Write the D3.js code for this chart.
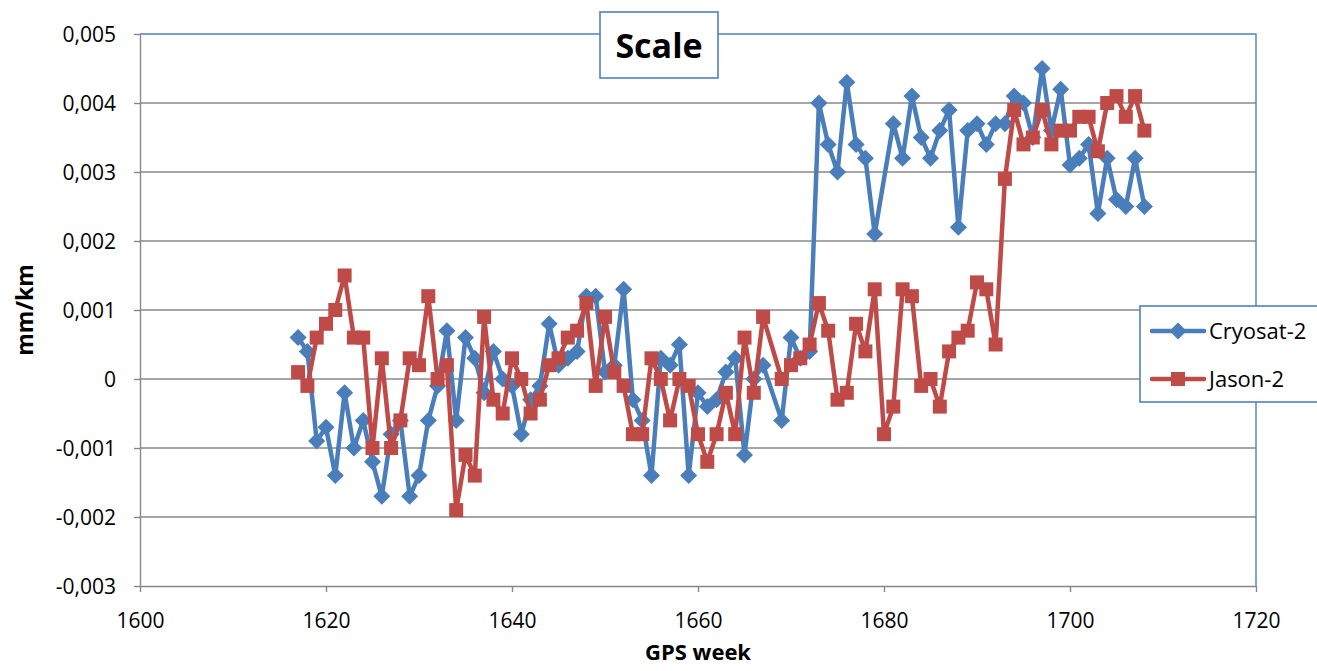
<!DOCTYPE html>
<html>
<head>
<meta charset="utf-8">
<script src="https://cdn.jsdelivr.net/npm/d3@7"></script>
<style>
  html, body { margin: 0; padding: 0; background: #fff; }
  svg { display: block; font-family: Carlito, Calibri, "Open Sans", sans-serif; }
</style>
</head>
<body>
<svg id="chart" width="1317" height="671"></svg>
<script>
// ---- data (values in units of 0.0001 mm/km, null = no sample that week) ----
const weeks = d3.range(1617, 1709);
const cryosat = [
   6,  4, -9, -7,-14, -2,-10, -6,-12,-17,   // 1617-1626
  -8, -6,-17,-14, -6, -1,  7, -6,  6,  3,   // 1627-1636
  -2,  4,  0, -1, -8, -3, -1,  8,  2,  3,   // 1637-1646
   4, 12, 12,  1,  2, 13, -3, -6,-14,  3,   // 1647-1656
   2,  5,-14, -2, -4, -3,  1,  3,-11,  0,   // 1657-1666
   2,null,-6,  6,  3,  4, 40, 34, 30, 43,   // 1667-1676
  34, 32, 21,null,37, 32, 41, 35, 32, 36,   // 1677-1686
  39, 22, 36, 37, 34, 37, 37, 41, 40, 35,   // 1687-1696
  45, 36, 42, 31, 32, 34, 24, 32, 26, 25,   // 1697-1706
  32, 25                                    // 1707-1708
];
const jason = [
   1, -1,  6,  8, 10, 15,  6,  6,-10,  3,   // 1617-1626
 -10, -6,  3,  2, 12,  0,  2,-19,-11,-14,   // 1627-1636
   9, -3, -5,  3,  0, -5, -3,  2,  3,  6,   // 1637-1646
   7, 11, -1,  9,  1, -1, -8, -8,  3,  0,   // 1647-1656
  -6,  0, -1, -8,-12, -8, -2, -8,  6, -2,   // 1657-1666
   9,null, 0,  2,  3,  5, 11,  7, -3, -2,   // 1667-1676
   8,  4, 13, -8, -4, 13, 12, -1,  0, -4,   // 1677-1686
   4,  6,  7, 14, 13,  5, 29, 39, 34, 35,   // 1687-1696
  39, 34, 36, 36, 38, 38, 33, 40, 41, 38,   // 1697-1706
  41, 36                                    // 1707-1708
];
const seriesNames = ['Cryosat-2', 'Jason-2'];
const seriesColors = ['#4A7EBB', '#BE4B48'];
const yTicks = [-0.003, -0.002, -0.001, 0, 0.001, 0.002, 0.003, 0.004, 0.005];
const xTicks = [1600, 1620, 1640, 1660, 1680, 1700, 1720];

// ---- layout ----------------------------------------------------------------
const svg = d3.select('#chart');
const plot = { left: 140, right: 1256, top: 34, bottom: 586 };
const x = d3.scaleLinear().domain([1600, 1720]).range([plot.left, plot.right]);
const y = d3.scaleLinear().domain([-0.003, 0.005]).range([plot.bottom, plot.top]);
const gridColor = '#888';
const frameColor = '#4F81BD';
const font = '"Open Sans", sans-serif';
const fmt = v => v === 0 ? '0' : d3.format('.3f')(v).replace('.', ',').replace('−', '-');

// gridlines
svg.append('g').selectAll('line').data(yTicks.filter(v => v > -0.003 && v < 0.005))
  .join('line')
  .attr('x1', plot.left).attr('x2', plot.right)
  .attr('y1', d => y(d)).attr('y2', d => y(d))
  .attr('stroke', gridColor).attr('stroke-width', 1.4);

// plot frame (top + right in blue)
svg.append('path')
  .attr('d', `M${plot.left},${plot.top}H${plot.right}V${plot.bottom}`)
  .attr('fill', 'none').attr('stroke', frameColor).attr('stroke-width', 1.4);

// y axis
const yAxis = svg.append('g').attr('transform', `translate(${plot.left},0)`)
  .call(d3.axisLeft(y).tickValues(yTicks).tickFormat(fmt).tickSize(6).tickSizeOuter(0));
yAxis.select('.domain').attr('stroke', gridColor).attr('stroke-width', 1.4);
yAxis.selectAll('.tick line').attr('stroke', gridColor).attr('stroke-width', 1.4);
yAxis.selectAll('.tick text').attr('x', -24).attr('dy', '0.36em').attr('fill', '#000')
  .style('font-size', '21px').style('font-family', font);

// x axis
const xAxis = svg.append('g').attr('transform', `translate(0,${plot.bottom})`)
  .call(d3.axisBottom(x).tickValues(xTicks).tickFormat(d3.format('d')).tickSize(6).tickSizeOuter(0));
xAxis.select('.domain').attr('stroke', gridColor).attr('stroke-width', 1.4);
xAxis.selectAll('.tick line').attr('stroke', gridColor).attr('stroke-width', 1.4);
xAxis.selectAll('.tick text').attr('y', 42).attr('dy', 0).attr('fill', '#000')
  .style('font-size', '21px').style('font-family', font);

// axis titles
svg.append('text')
  .attr('transform', 'translate(33,310) rotate(-90)')
  .attr('text-anchor', 'middle')
  .style('font-size', '23px').style('font-weight', 'bold')
  .style('font-family', font)
  .text('mm/km');
svg.append('text')
  .attr('x', 698).attr('y', 660)
  .attr('text-anchor', 'middle')
  .style('font-size', '22px').style('font-weight', 'bold')
  .style('font-family', font)
  .text('GPS week');

// ---- series ----------------------------------------------------------------
const line = d3.line().x(d => x(d.w)).y(d => y(d.v));
const diamond = d3.symbol().type(d3.symbolDiamond2).size(185);
const square = d3.symbol().type(d3.symbolSquare).size(196);
const symbols = [diamond, square];

[cryosat, jason].forEach((vals, i) => {
  const pts = weeks.map((w, k) => ({ w, v: vals[k] == null ? null : vals[k] / 10000 }))
    .filter(d => d.v != null);
  const g = svg.append('g');
  g.append('path').datum(pts)
    .attr('d', line)
    .attr('fill', 'none')
    .attr('stroke', seriesColors[i])
    .attr('stroke-width', 4.5)
    .attr('stroke-linejoin', 'round');
  g.selectAll('path.mark').data(pts).join('path')
    .attr('class', 'mark')
    .attr('transform', d => `translate(${x(d.w)},${y(d.v)})`)
    .attr('d', symbols[i])
    .attr('fill', seriesColors[i]);
});

// ---- title -----------------------------------------------------------------
const title = svg.append('g');
title.append('rect').attr('x', 600).attr('y', 12).attr('width', 118).attr('height', 66)
  .attr('fill', '#fff').attr('stroke', frameColor).attr('stroke-width', 1.6);
title.append('text').attr('x', 659).attr('y', 58).attr('text-anchor', 'middle')
  .style('font-size', '34px').style('font-weight', 'bold')
  .style('font-family', font)
  .text('Scale');

// ---- legend ----------------------------------------------------------------
const legend = svg.append('g');
legend.append('rect').attr('x', 1140).attr('y', 306).attr('width', 190).attr('height', 96)
  .attr('fill', '#fff').attr('stroke', frameColor).attr('stroke-width', 1.6);
seriesNames.forEach((name, i) => {
  const ly = 331 + i * 48;
  const row = legend.append('g');
  row.append('line').attr('x1', 1152).attr('x2', 1204).attr('y1', ly).attr('y2', ly)
    .attr('stroke', seriesColors[i]).attr('stroke-width', 4.5).attr('stroke-linecap', 'round');
  row.append('path').attr('transform', `translate(1178,${ly})`).attr('d', symbols[i])
    .attr('fill', seriesColors[i]);
  row.append('text').attr('x', 1209).attr('y', ly + 8)
    .style('font-size', '22px').style('font-family', font)
    .text(name);
});
</script>
</body>
</html>
